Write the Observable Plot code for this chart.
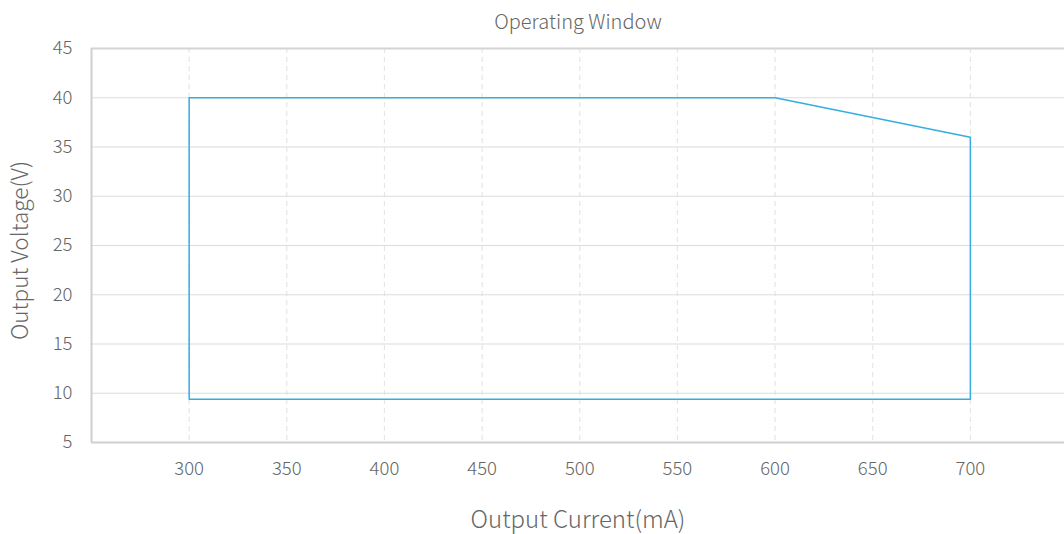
<!DOCTYPE html>
<html>
<head>
<meta charset="utf-8">
<script src="https://cdn.jsdelivr.net/npm/d3@7"></script>
<script src="https://cdn.jsdelivr.net/npm/@observablehq/plot@0.6"></script>
<style>
  html, body { margin: 0; padding: 0; background: #fff; }
  #chart svg { display: block; }
</style>
</head>
<body>
<div id="chart"></div>
<script>
const current = [300, 300, 600, 700, 700, 300];
const voltage = [9.4, 40, 40, 36, 9.4, 9.4];
const xTicks = [300, 350, 400, 450, 500, 550, 600, 650, 700];
const yTicks = [5, 10, 15, 20, 25, 30, 35, 40, 45];
const yGrid = [10, 15, 20, 25, 30, 35, 40];
const title = "Operating Window";
const xLabel = "Output Current(mA)";
const yLabel = "Output Voltage(V)";

const pts = current.map((c, i) => ({c, v: voltage[i]}));
const textColor = "#666";

const chart = Plot.plot({
  width: 1064,
  height: 534,
  marginLeft: 91,
  marginRight: 0,
  marginTop: 48,
  marginBottom: 92,
  style: {fontFamily: "'Noto Sans CJK SC', 'Noto Sans', sans-serif", fontSize: "16px", fontWeight: 300, color: textColor, background: "#fff"},
  x: {domain: [250, 748.2], ticks: xTicks},
  y: {domain: [5, 45], ticks: yTicks},
  marks: [
    Plot.ruleX(xTicks, {stroke: "#e6e6e6", strokeDasharray: "5,4", strokeWidth: 1.2}),
    Plot.ruleY(yGrid, {stroke: "#dcdcdc", strokeWidth: 1.2}),
    Plot.ruleY([45], {stroke: "#d4d4d4", strokeWidth: 1.8}),
    Plot.ruleY([5], {stroke: "#cfcfcf", strokeWidth: 2}),
    Plot.ruleX([250], {stroke: "#cfcfcf", strokeWidth: 2}),
    Plot.line(pts, {x: "c", y: "v", stroke: "#36ade0", strokeWidth: 1.5}),
    Plot.axisX({ticks: xTicks, tickSize: 0, tickPadding: 19, label: null, fontSize: 18.5, fill: textColor}),
    Plot.axisY({ticks: yTicks, tickSize: 0, tickPadding: 19, label: null, fontSize: 18.5, fill: textColor}),
    Plot.text([title], {frameAnchor: "top", dy: -34, fontSize: 20, fill: textColor}),
    Plot.text([xLabel], {frameAnchor: "bottom", dy: 85, fontSize: 24, fill: textColor}),
    Plot.text([yLabel], {frameAnchor: "left", dx: -71, dy: 5, rotate: -90, textAnchor: "middle", fontSize: 22.5, fill: textColor})
  ]
});
document.getElementById("chart").appendChild(chart);
</script>
</body>
</html>
